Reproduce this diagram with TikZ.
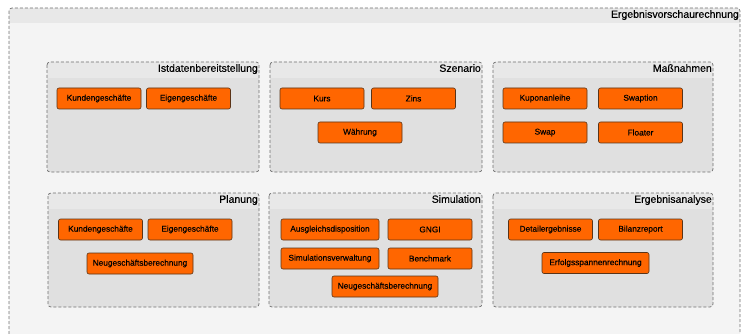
\documentclass[tikz,border=0pt]{standalone}
\usepackage{fontspec}
\setmainfont{Liberation Sans}[FakeBold=0.35]
\usetikzlibrary{positioning}

\definecolor{outerbg}{HTML}{F4F4F4}
\definecolor{bandbg}{HTML}{E8E8E8}
\definecolor{groupbg}{HTML}{E0E0E0}
\definecolor{taskfill}{HTML}{FF6600}
\definecolor{taskline}{HTML}{5A3418}
\definecolor{dashline}{HTML}{707070}

\tikzset{
  task/.style={draw=taskline, fill=taskfill, rounded corners=2pt, line width=0.6pt,
    minimum width=84pt, minimum height=21pt, inner sep=0pt,
    font=\fontsize{8.3}{9}\selectfont},
  widetask/.style={task, minimum width=106pt},
  grouptitle/.style={anchor=north east, inner xsep=1pt, inner ysep=2pt,
    font=\fontsize{10.5}{12}\selectfont},
  groupline/.style={draw=dashline, dash pattern=on 3pt off 2pt, line width=0.7pt,
    rounded corners=3pt}
}

\begin{document}
\begin{tikzpicture}[x=1pt,y=-1pt]
\useasboundingbox (0,0) rectangle (747,334);
\clip (0,0) rectangle (747,334);

%%Outer frame
\fill[outerbg, rounded corners=3pt] (9,8) rectangle (740,350);
\begin{scope}
\clip[rounded corners=3pt] (9,8) rectangle (740,350);
\fill[bandbg] (9,8) rectangle (740,23);
\end{scope}
\draw[groupline] (9,8) rectangle (740,350);
\node[grouptitle] (erg) at (740,8) {Ergebnisvorschaurechnung};

%%Groups
\foreach \xa/\ya/\xb/\yb/\gname/\gtitle in {
  47/62/259/172/ist/Istdatenbereitstellung,
  270/62/482/172/sze/Szenario,
  493/62/713/172/mas/Maßnahmen,
  48/193/259/307/pla/Planung,
  269/193/482/307/sim/Simulation,
  493/193/713/307/ana/Ergebnisanalyse}{
  \fill[groupbg, rounded corners=3pt] (\xa,\ya) rectangle (\xb,\yb);
  \begin{scope}
  \clip[rounded corners=3pt] (\xa,\ya) rectangle (\xb,\yb);
  \fill[bandbg] (\xa,\ya) rectangle (\xb,\ya+16);
  \end{scope}
  \draw[groupline] (\xa,\ya) rectangle (\xb,\yb);
  \node[grouptitle] (\gname) at (\xb,\ya) {\gtitle};
}

%%Istdatenbereitstellung
\node[task] (ist-kunden) at (99,98.5) {Kundengeschäfte};
\node[task] (ist-eigen) at (188.5,98.5) {Eigengeschäfte};

%%Szenario
\node[task] (kurs) at (322,98.5) {Kurs};
\node[task] (zins) at (413.5,98.5) {Zins};
\node[task] (waehrung) at (360,132.5) {Währung};

%%Massnahmen
\node[task] (kupon) at (545,98.5) {Kuponanleihe};
\node[task] (swaption) at (640.5,98.5) {Swaption};
\node[task] (swap) at (545,132.5) {Swap};
\node[task] (floater) at (640.5,132.5) {Floater};

%%Planung
\node[task] (pla-kunden) at (100.5,229.5) {Kundengeschäfte};
\node[task] (pla-eigen) at (190,229.5) {Eigengeschäfte};
\node[widetask] (pla-neu) at (140,263.5) {Neugeschäftsberechnung};

%%Simulation
\node[task, minimum width=98pt] (ausgleich) at (330,229.5) {Ausgleichsdisposition};
\node[task] (gngi) at (430,229.5) {GNGI};
\node[task, minimum width=98pt] (simverw) at (330,258.5) {Simulationsverwaltung};
\node[task] (bench) at (430,258.5) {Benchmark};
\node[widetask] (sim-neu) at (385,286.5) {Neugeschäftsberechnung};

%%Ergebnisanalyse
\node[task] (detail) at (550.5,229.5) {Detailergebnisse};
\node[task] (bilanz) at (640.5,229.5) {Bilanzreport};
\node[widetask, minimum width=107pt] (erfolg) at (595.5,263) {Erfolgsspannenrechnung};

\end{tikzpicture}
\end{document}
